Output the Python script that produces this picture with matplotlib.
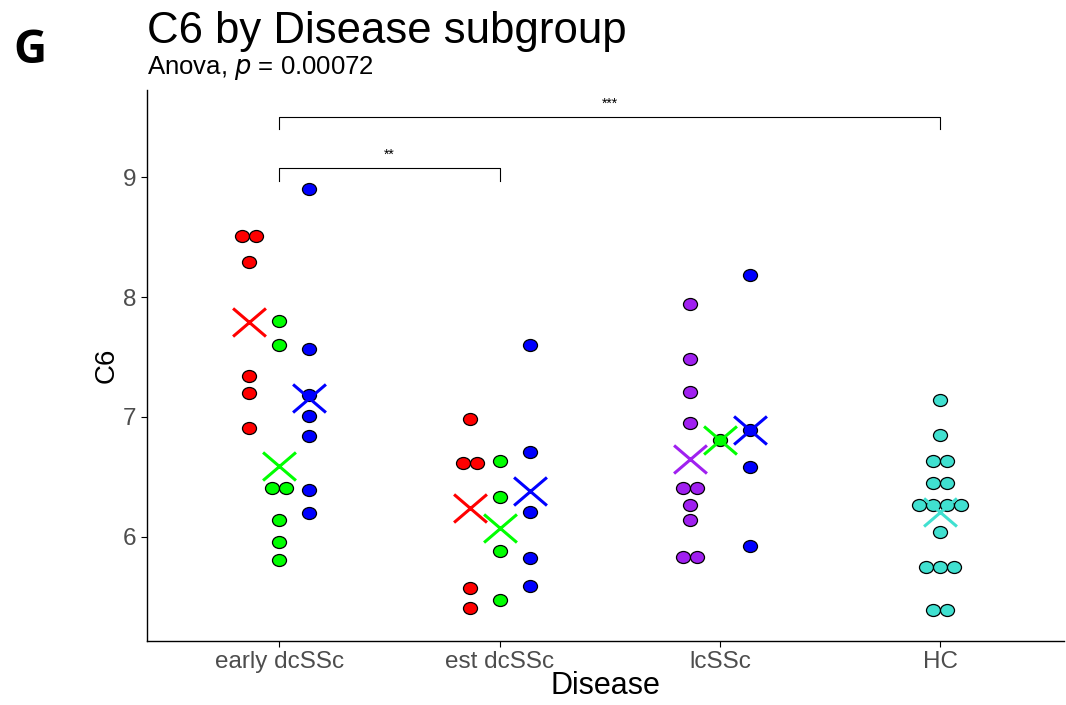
import numpy as np
import matplotlib.pyplot as plt
from matplotlib.path import Path
from matplotlib.transforms import Affine2D

plt.rcParams['font.family'] = ['Liberation Sans', 'DejaVu Sans']

diseases = ['early dcSSc', 'est dcSSc', 'lcSSc', 'HC']

# values, per disease and subgroup
early_red = [8.51, 8.51, 8.29, 7.34, 7.20, 6.91]
early_green = [7.80, 7.60, 6.41, 6.41, 6.14, 5.96, 5.81]
early_blue = [8.90, 7.57, 7.18, 7.01, 6.84, 6.39, 6.20]
est_red = [6.98, 6.62, 6.62, 5.57, 5.41]
est_green = [6.63, 6.33, 5.88, 5.47]
est_blue = [7.60, 6.71, 6.21, 5.82, 5.59]
lc_purple = [7.94, 7.48, 7.21, 6.95, 6.41, 6.41, 6.27, 6.14, 5.83, 5.83]
lc_green = [6.81]
lc_blue = [8.18, 6.89, 6.58, 5.92]
hc_cyan = [7.14, 6.85, 6.63, 6.63, 6.45, 6.45, 6.27, 6.27, 6.27, 6.27,
           6.04, 5.75, 5.75, 5.75, 5.39, 5.39]

# (disease index, offset, values, colour)
groups = [
    (0, -0.136, early_red, '#FF0000'),
    (0, 0.0, early_green, '#00FF00'),
    (0, 0.136, early_blue, '#0000FF'),
    (1, -0.136, est_red, '#FF0000'),
    (1, 0.0, est_green, '#00FF00'),
    (1, 0.136, est_blue, '#0000FF'),
    (2, -0.136, lc_purple, '#A020F0'),
    (2, 0.0, lc_green, '#00FF00'),
    (2, 0.136, lc_blue, '#0000FF'),
    (3, 0.0, hc_cyan, '#40E0D0'),
]

# slightly wide markers, like the original
ell = Path.unit_circle().transformed(Affine2D().scale(1.17, 1.0))
cross = Path([(-1.17, -1), (1.17, 1), (-1.17, 1), (1.17, -1)],
             [Path.MOVETO, Path.LINETO, Path.MOVETO, Path.LINETO])

fig = plt.figure(figsize=(10.66, 7.05), dpi=100)
ax = fig.add_axes([0.138, 0.091, 0.86, 0.781])

dot_w = 0.0635
for i, off, vals, col in groups:
    vals = np.array(vals)
    xs = []
    ys = []
    for v in np.unique(vals):
        n = np.sum(vals == v)
        for k in range(n):
            xs.append(i + 1 + off + (k - (n - 1) / 2) * dot_w)
            ys.append(v)
    ax.scatter(xs, ys, s=102, marker=ell, c=col, edgecolors='black', linewidths=0.9, zorder=3)
    ax.scatter([i + 1 + off], [vals.mean()], marker=cross, s=560, c=col,
               linewidths=2.2, zorder=4)

# significance brackets
def bracket(x1, x2, y, h, label):
    ax.plot([x1, x1, x2, x2], [y - h, y, y, y - h], color='black', lw=0.8)
    ax.text((x1 + x2) / 2, y + 0.05, label, ha='center', va='bottom', fontsize=10)

bracket(1, 2, 9.075, 0.11, '**')
bracket(1, 4, 9.5, 0.1, '***')

ax.set_xlim(0.4, 4.56)
ax.set_ylim(5.133, 9.725)
ax.set_xticks([1, 2, 3, 4])
ax.set_xticklabels(diseases)
ax.set_yticks([6, 7, 8, 9])
ax.tick_params(labelsize=17.5, labelcolor='#4D4D4D', color='black', length=4)
ax.tick_params(axis='x', pad=3)
for s in ['top', 'right']:
    ax.spines[s].set_visible(False)
for s in ['left', 'bottom']:
    ax.spines[s].set_linewidth(1.0)
ax.set_xlabel('Disease', fontsize=22, va='center')
ax.xaxis.set_label_coords(0.5, -0.082)
ax.set_ylabel('C6', fontsize=20, va='center', ha='center')
ax.yaxis.set_label_coords(-0.044, 0.5)

fig.text(0.138, 0.955, 'C6 by Disease subgroup', fontsize=31.5, ha='left', va='center')
fig.text(0.138, 0.903, 'Anova, $\\it{p}$ = 0.00072', fontsize=18.5, ha='left', va='center')
fig.text(0.013, 0.928, 'G', fontsize=33, fontweight='bold', ha='left', va='center',
         family=['Open Sans', 'DejaVu Sans'])

fig.savefig('out.png', dpi=100)
